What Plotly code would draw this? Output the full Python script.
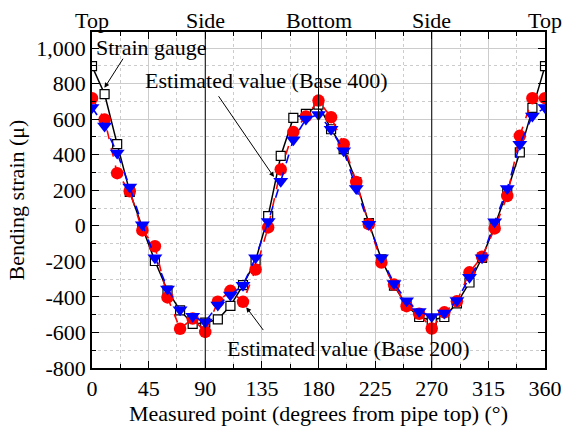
import plotly.graph_objects as go

# ---- data ----
angles = list(range(0, 361, 10))
strain_gauge = [898, 741, 459, 191, -10, -198, -365, -476, -552, -545,
                -527, -450, -334, -196, 54, 393, 607, 630, 681, 543,
                431, 246, 15, -189, -337, -448, -513, -531, -513, -436,
                -319, -180, 0, 195, 413, 663, 898]
est_base200 = [718, 598, 296, 194, -26, -115, -403, -579, -522, -597,
               -427, -366, -428, -246, -9, 317, 527, 615, 704, 611,
               459, 246, 9, -207, -331, -452, -495, -578, -487, -425,
               -262, -174, -15, 168, 506, 718, 718]
est_base400 = [665, 561, 409, 218, 6, -180, -355, -472, -509, -541,
               -445, -390, -334, -180, 24, 250, 484, 600, 626, 543,
               422, 209, 8, -180, -324, -422, -482, -511, -491, -420,
               -290, -180, 22, 209, 459, 617, 665]

x_ticks = [0, 45, 90, 135, 180, 225, 270, 315, 360]
y_ticks = [-800, -600, -400, -200, 0, 200, 400, 600, 800, 1000]
y_ticktext = ["-800", "-600", "-400", "-200", "0", "200", "400", "600", "800", "1,000"]
pos_angles = [0, 90, 180, 270, 360]
pos_labels = ["Top", "Side", "Bottom", "Side", "Top"]
divider_angles = [90, 180, 270]

FONT = "'Liberation Serif', 'Times New Roman', Times, serif"
FS = 22

fig = go.Figure()
fig.add_trace(go.Scatter(
    x=angles, y=strain_gauge, mode="lines+markers", name="Strain gauge",
    line=dict(color="black", width=1.5),
    marker=dict(symbol="square", size=9, color="white",
                line=dict(color="black", width=1.2))))
fig.add_trace(go.Scatter(
    x=angles, y=est_base200, mode="lines+markers", name="Estimated value (Base 200)",
    line=dict(color="red", width=1.6, dash="dash"),
    marker=dict(symbol="circle", size=12.5, color="red")))
fig.add_trace(go.Scatter(
    x=angles, y=est_base400, mode="lines+markers", name="Estimated value (Base 400)",
    line=dict(color="blue", width=1.6, dash="dash"),
    marker=dict(symbol="triangle-down", size=13, color="blue")))

for a in divider_angles:
    fig.add_shape(type="line", x0=a, x1=a, xref="x", y0=0, y1=1, yref="paper",
                  line=dict(color="black", width=1), layer="above")

annotations = []
for a, t in zip(pos_angles, pos_labels):
    annotations.append(dict(x=a, y=1, xref="x", yref="paper", text=t,
                            showarrow=False, xanchor="center", yanchor="bottom",
                            yshift=-3, font=dict(family=FONT, size=FS, color="black")))

txtfont = dict(family=FONT, size=FS, color="black")
annotations += [
    dict(x=1.5, y=1004, xref="x", yref="y", text="Strain gauge", showarrow=False,
         xanchor="left", yanchor="middle", font=txtfont),
    dict(x=138.5, y=815, xref="x", yref="y", text="Estimated value (Base 400)",
         showarrow=False, xanchor="center", yanchor="middle", font=txtfont),
    dict(x=204, y=-692, xref="x", yref="y", text="Estimated value (Base 200)",
         showarrow=False, xanchor="center", yanchor="middle", font=txtfont),
    # arrows
    dict(x=9.9, y=776, ax=25.4, ay=948, xref="x", yref="y", axref="x", ayref="y",
         text="", showarrow=True, arrowhead=2, arrowsize=1, arrowwidth=1, arrowcolor="black"),
    dict(x=144.6, y=274, ax=99.8, ay=737, xref="x", yref="y", axref="x", ayref="y",
         text="", showarrow=True, arrowhead=2, arrowsize=1, arrowwidth=1, arrowcolor="black"),
    dict(x=122.6, y=-458, ax=137, ay=-595, xref="x", yref="y", axref="x", ayref="y",
         text="", showarrow=True, arrowhead=2, arrowsize=1, arrowwidth=1, arrowcolor="black"),
]

fig.update_layout(
    width=574, height=432,
    margin=dict(l=92, r=19, t=32, b=60),
    paper_bgcolor="white", plot_bgcolor="white",
    showlegend=False,
    font=dict(family=FONT, size=FS, color="black"),
    annotations=annotations,
)
fig.update_xaxes(
    range=[0, 360], tickvals=x_ticks, ticks="inside", ticklen=7, tickwidth=1.3,
    tickcolor="black", showline=True, linecolor="black", linewidth=1.5,
    mirror="allticks", showgrid=True, gridcolor="#cccccc", gridwidth=1, zeroline=False,
    tickfont=dict(family=FONT, size=FS, color="black"),
    minor=dict(dtick=22.5, tick0=0, ticks="inside", ticklen=4, tickcolor="black",
               showgrid=True, gridcolor="#cccccc", griddash="dot", gridwidth=1),
    title=dict(text="Measured point (degrees from pipe top) (°)",
               font=dict(family=FONT, size=FS, color="black"), standoff=3),
)
fig.update_yaxes(
    range=[-800, 1090], tickvals=y_ticks, ticktext=y_ticktext, ticks="inside",
    ticklen=7, tickwidth=1.3, tickcolor="black", showline=True, linecolor="black",
    linewidth=1.5, mirror="allticks", showgrid=True, gridcolor="#cccccc", gridwidth=1,
    zeroline=False, tickfont=dict(family=FONT, size=FS, color="black"),
    minor=dict(dtick=100, tick0=0, ticks="inside", ticklen=4, tickcolor="black",
               showgrid=True, gridcolor="#cccccc", griddash="dot", gridwidth=1),
    title=dict(text="Bending strain (μ)", font=dict(family=FONT, size=FS, color="black"),
               standoff=6),
)

fig.write_html("out.html")
